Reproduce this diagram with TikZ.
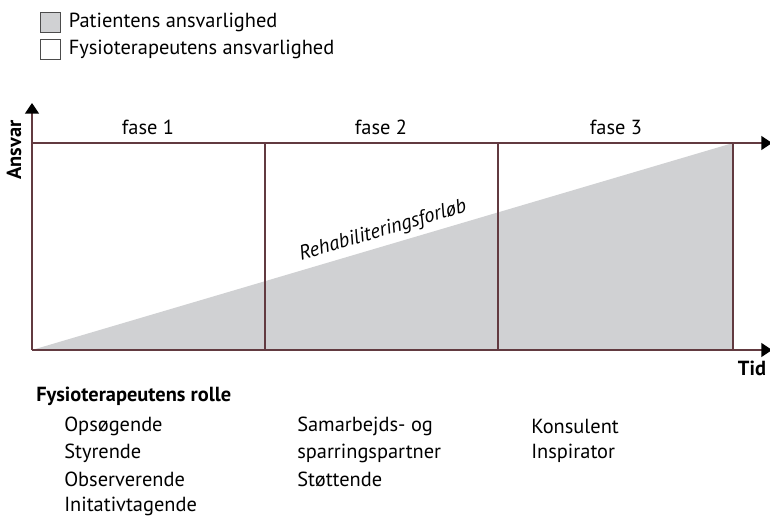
\documentclass[tikz,border=0pt]{standalone}
\usepackage{fontspec}
\setmainfont{PT Sans}
\usetikzlibrary{arrows.meta}
\usetikzlibrary{positioning}
\definecolor{axisbrown}{RGB}{98,58,64}
\definecolor{patgrey}{RGB}{208,209,211}
\tikzset{
  frameline/.style={draw=axisbrown, line width=1.1pt},
  axisarrow/.style={frameline, -{Triangle[width=10.5pt,length=8pt,color=black]}},
  legendbox/.style={draw=black!70, line width=0.6pt, minimum width=15pt, minimum height=15pt, inner sep=0pt},
  txt/.style={inner sep=0.75pt, font=\fontsize{15.3}{17}\selectfont},
  roletxt/.style={txt, anchor=west}
}
\begin{document}
\begin{tikzpicture}[x=0.75pt,y=0.75pt,yscale=-1,xscale=1]
\useasboundingbox (0,0) rectangle (770,524);

%Legend
\node [legendbox, fill=patgrey] (boxpat) at (50.5,22.5) {};
\node [legendbox] (boxfys) at (50.5,49.5) {};
\node [txt, right=5pt of boxpat] (legpat) {Patientens ansvarlighed};
\node [txt, right=5pt of boxfys] (legfys) {Fysioterapeutens ansvarlighed};

%Corners
\coordinate (origo) at (32,350);
\coordinate (ytop) at (32,103);
\coordinate (topleft) at (32,143);
\coordinate (topright) at (733,143);
\coordinate (botright) at (733,350);
\coordinate (xend) at (772,350);
\coordinate (tend) at (772,143);

%Shape: Patient triangle
\fill [patgrey] (origo) -- (topright) -- (botright) -- cycle;

%Phase dividers
\draw [frameline] (265,143) -- (265,350);
\draw [frameline] (498,143) -- (498,350);
\draw [frameline] (topright) -- (botright);

%Axes
\draw [axisarrow] (origo) -- (ytop);
\draw [axisarrow] (origo) -- (xend);
\draw [axisarrow] (topleft) -- (tend);

% Text Node
\node [txt] (fase1) at (148,127) {fase 1};
\node [txt] (fase2) at (381,127) {fase 2};
\node [txt] (fase3) at (616,127) {fase 3};
\node [txt, rotate=90, font=\fontsize{15.3}{17}\selectfont\bfseries] (ansvar) at (14,150) {Ansvar};
\node [txt, font=\fontsize{15.3}{17}\selectfont\bfseries] (tid) at (752,368) {Tid};
\node [txt, rotate=16.45, font=\fontsize{15.3}{17}\selectfont\itshape] (forloeb) at (383,231) {Rehabiliteringsforløb};

% Roles
\node [roletxt, font=\fontsize{15.3}{17}\selectfont\bfseries] (rolle) at (35,396) {Fysioterapeutens rolle};
\node [roletxt] (r11) at (63,426) {Opsøgende};
\node [roletxt] (r12) at (63,453) {Styrende};
\node [roletxt] (r13) at (63,479) {Observerende};
\node [roletxt] (r14) at (63,506) {Initativtagende};
\node [roletxt] (r21) at (296,426) {Samarbejds- og};
\node [roletxt] (r22) at (296,453) {sparringspartner};
\node [roletxt] (r23) at (296,479) {Støttende};
\node [roletxt] (r31) at (530,426) {Konsulent};
\node [roletxt] (r32) at (530,453) {Inspirator};

\end{tikzpicture}
\end{document}
